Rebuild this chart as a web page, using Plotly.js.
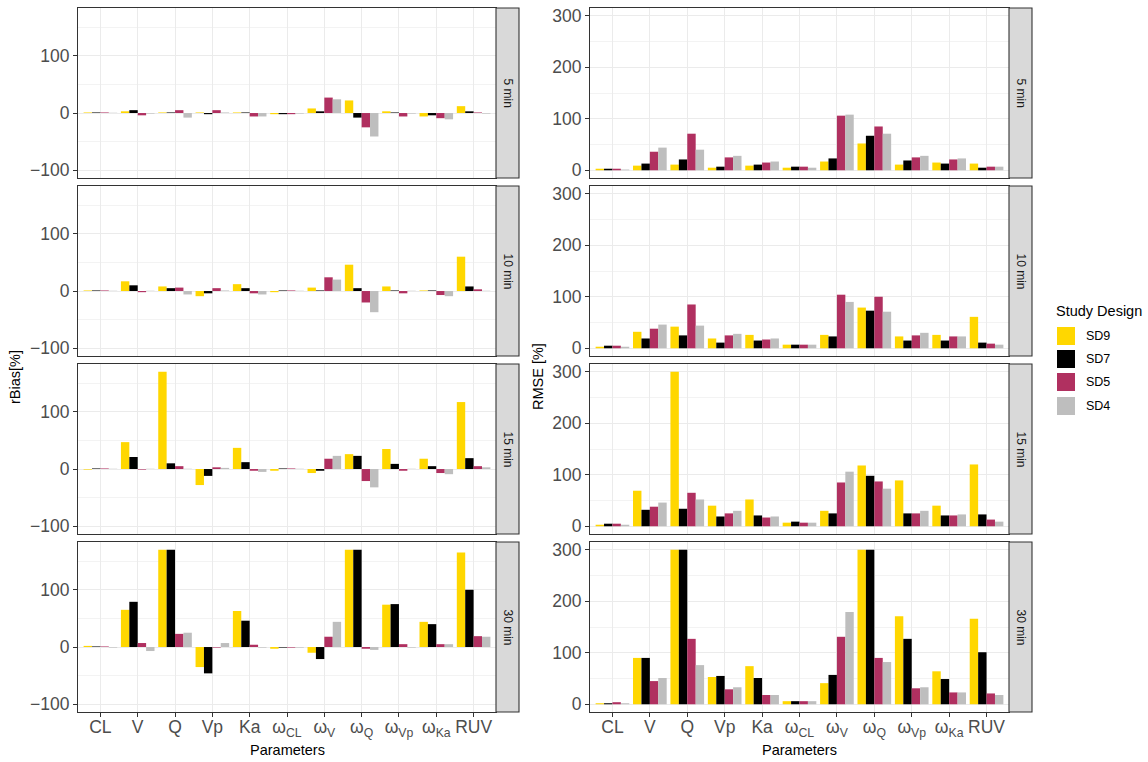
<!DOCTYPE html>
<html>
<head>
<meta charset="utf-8">
<script src="https://cdn.plot.ly/plotly-3.0.1.min.js"></script>
<style>
  html, body { margin: 0; padding: 0; background: #fff; }
  #chart { width: 1148px; height: 762px; }
</style>
</head>
<body>
<div id="chart"></div>
<script>
// Parameter labels (x categories, shared by every panel)
const categories = ["CL", "V", "Q", "Vp", "Ka", "ω<sub>CL</sub>", "ω<sub>V</sub>",
                    "ω<sub>Q</sub>", "ω<sub>Vp</sub>", "ω<sub>Ka</sub>", "RUV"];
const designs = ["SD9", "SD7", "SD5", "SD4"];
const timeLabels = ["5 min", "10 min", "15 min", "30 min"];

// Relative bias [%] per sampling interval and study design
const rbias5_SD9  = [1, 3, 1, 1, 1, -2, 8, 22, 3, -6, 12];
const rbias5_SD7  = [1, 5, 1, -2, 1, -2, 3, -8, 1, -4, 3];
const rbias5_SD5  = [1, -4, 5, 5, -6, -2, 27, -25, -6, -9, 1];
const rbias5_SD4  = [0.5, -1, -8, 1, -6, -1, 24, -41, -1, -11, -1];

const rbias10_SD9 = [1, 17, 8, -9, 12, -2, 6, 46, 8, 1, 60];
const rbias10_SD7 = [1, 10, 5, -4, 5, 1, 1, 5, 1, 1, 8];
const rbias10_SD5 = [1, -2, 6, 5, -4, 1, 24, -20, -4, -7, 3];
const rbias10_SD4 = [0.5, 0.5, -6, 1, -6, 0.5, 20, -37, 0.5, -9, 0.5];

const rbias15_SD9 = [-1, 47, 170, -28, 37, -3, -7, 26, 35, 18, 117];
const rbias15_SD7 = [1, 21, 10, -12, 12, 1, -3, 23, 9, 5, 19];
const rbias15_SD5 = [1, -1, 5, 3, -3, 1, 18, -21, -3, -7, 5];
const rbias15_SD4 = [0.5, 0.5, 0.5, 2, -5, 0.5, 23, -32, 0.5, -9, 3];

const rbias30_SD9 = [2, 65, 170, -35, 63, -3, -10, 170, 74, 44, 165];
const rbias30_SD7 = [1, 79, 170, -46, 46, -1, -21, 170, 75, 40, 100];
const rbias30_SD5 = [1, 7, 23, -1, 4, -1, 18, -3, 5, 5, 19];
const rbias30_SD4 = [-1, -7, 25, 7, -1, -1, 44, -5, -1, 5, 18];

// Root mean squared error [%] per sampling interval and study design
const rmse5_SD9  = [3, 9, 11, 5, 9, 5, 17, 52, 11, 15, 13];
const rmse5_SD7  = [3, 13, 21, 7, 11, 7, 23, 67, 19, 13, 5];
const rmse5_SD5  = [3, 36, 71, 25, 15, 7, 106, 85, 25, 21, 7];
const rmse5_SD4  = [1.5, 44, 40, 28, 17, 5, 108, 71, 28, 23, 7];

const rmse10_SD9 = [3, 32, 42, 19, 26, 7, 26, 79, 23, 26, 61];
const rmse10_SD7 = [5, 19, 25, 11, 15, 7, 23, 73, 15, 15, 11];
const rmse10_SD5 = [5, 38, 85, 25, 17, 7, 104, 100, 25, 23, 9];
const rmse10_SD4 = [3, 46, 44, 28, 19, 7, 90, 71, 30, 23, 7];

const rmse15_SD9 = [3, 69, 300, 40, 52, 7, 30, 118, 89, 40, 120];
const rmse15_SD7 = [5, 32, 34, 19, 21, 9, 25, 98, 25, 21, 23];
const rmse15_SD5 = [5, 38, 65, 25, 17, 7, 85, 87, 25, 21, 13];
const rmse15_SD4 = [3, 46, 52, 30, 19, 7, 106, 73, 30, 23, 9];

const rmse30_SD9 = [2, 90, 300, 53, 74, 6, 41, 300, 171, 64, 166];
const rmse30_SD7 = [2, 90, 300, 55, 51, 6, 57, 300, 127, 49, 101];
const rmse30_SD5 = [4, 45, 127, 29, 18, 6, 131, 90, 31, 23, 21];
const rmse30_SD4 = [2, 51, 76, 33, 18, 6, 179, 82, 33, 23, 18];

const rbiasPanels = [
  [rbias5_SD9, rbias5_SD7, rbias5_SD5, rbias5_SD4],
  [rbias10_SD9, rbias10_SD7, rbias10_SD5, rbias10_SD4],
  [rbias15_SD9, rbias15_SD7, rbias15_SD5, rbias15_SD4],
  [rbias30_SD9, rbias30_SD7, rbias30_SD5, rbias30_SD4]
];
const rmsePanels = [
  [rmse5_SD9, rmse5_SD7, rmse5_SD5, rmse5_SD4],
  [rmse10_SD9, rmse10_SD7, rmse10_SD5, rmse10_SD4],
  [rmse15_SD9, rmse15_SD7, rmse15_SD5, rmse15_SD4],
  [rmse30_SD9, rmse30_SD7, rmse30_SD5, rmse30_SD4]
];

const colors = ["#FFD700", "#000000", "#B03060", "#BEBEBE"];

// ---- geometry (pixels of the 1148 x 762 canvas) ----
const W = 1148, H = 762;
const fx = x => x / W;
const fy = y => 1 - y / H;
const cols = [
  { x0: 78,  x1: 496,  s1: 519,  range: [-113.5, 183.5], tickvals: [-100, 0, 100] },
  { x0: 590, x1: 1009, s1: 1032, range: [-15, 315],      tickvals: [0, 100, 200, 300] }
];
const rowTops = [8, 186, 364, 542];
const rowH = 170;

const FONT = "Liberation Sans, Arial, sans-serif";
const tickFont = { family: FONT, size: 17.5, color: "#4D4D4D" };
const titleFont = { family: FONT, size: 14.5, color: "#000000" };

const traces = [];
const layout = {
  width: W, height: H,
  margin: { l: 0, r: 0, t: 0, b: 0 },
  paper_bgcolor: "#FFFFFF",
  plot_bgcolor: "#FFFFFF",
  barmode: "group",
  bargap: 0.1,
  bargroupgap: 0,
  showlegend: false,
  font: { family: FONT },
  shapes: [],
  annotations: []
};

// plain text label placed in canvas pixels
function label(x, y, text, font, extra) {
  layout.annotations.push(Object.assign({
    xref: "paper", yref: "paper", x: fx(x), y: fy(y),
    xanchor: "center", yanchor: "middle",
    text: text, showarrow: false, font: font
  }, extra || {}));
}

const panelSets = [rbiasPanels, rmsePanels];

cols.forEach((col, c) => {
  rowTops.forEach((top, r) => {
    const idx = c * 4 + r + 1;
    const isBottom = r === rowTops.length - 1;

    panelSets[c][r].forEach((vals, d) => {
      traces.push({
        type: "bar",
        x: categories,
        y: vals,
        name: designs[d],
        marker: { color: colors[d], line: { width: 0 } },
        xaxis: "x" + idx,
        yaxis: "y" + idx,
        hoverinfo: "skip"
      });
    });

    layout["xaxis" + idx] = {
      domain: [fx(col.x0), fx(col.x1)],
      anchor: "y" + idx,
      type: "category",
      categoryorder: "array",
      categoryarray: categories,
      range: [-0.6, categories.length - 0.4],
      showgrid: true,
      gridcolor: "#EBEBEB",
      gridwidth: 1,
      zeroline: false,
      showline: true,
      mirror: true,
      linecolor: "#333333",
      linewidth: 1.1,
      ticks: isBottom ? "outside" : "",
      ticklen: 4,
      tickcolor: "#333333",
      tickwidth: 1,
      showticklabels: isBottom,
      ticklabelstandoff: -5,
      tickangle: 0,
      tickfont: tickFont,
      fixedrange: true
    };
    layout["yaxis" + idx] = {
      domain: [fy(top + rowH), fy(top)],
      anchor: "x" + idx,
      range: col.range,
      tickmode: "array",
      tickvals: col.tickvals,
      showgrid: true,
      gridcolor: "#EBEBEB",
      gridwidth: 1,
      minor: { dtick: 50, tick0: 0, showgrid: true, gridcolor: "#EBEBEB", gridwidth: 0.6, ticks: "" },
      zeroline: false,
      showline: true,
      mirror: true,
      linecolor: "#333333",
      linewidth: 1.1,
      ticks: "outside",
      ticklen: 4,
      tickcolor: "#333333",
      tickwidth: 1,
      tickfont: tickFont,
      fixedrange: true
    };

    // facet strip on the right-hand side of each panel
    layout.shapes.push({
      type: "rect", xref: "paper", yref: "paper",
      x0: fx(col.x1), x1: fx(col.s1), y0: fy(top + rowH), y1: fy(top),
      fillcolor: "#D9D9D9", line: { color: "#333333", width: 1.1 }, layer: "above"
    });
    label((col.x1 + col.s1) / 2, top + rowH / 2, timeLabels[r],
          { family: FONT, size: 12, color: "#1A1A1A" }, { textangle: 90 });
  });

  // "Parameters" under the bottom panel of each column
  label((col.x0 + col.x1) / 2, 750, "Parameters", titleFont);
});

// y axis titles
label(15, 377, "rBias[%]", titleFont, { textangle: -90 });
label(538, 377, "RMSE [%]", titleFont, { textangle: -90 });

// legend: "Study Design"
label(1054, 311, "Study Design", titleFont, { xanchor: "left" });
const legendY = [336, 359, 382, 406];
designs.forEach((d, i) => {
  layout.shapes.push({
    type: "rect", xref: "paper", yref: "paper",
    x0: fx(1057), x1: fx(1075), y0: fy(legendY[i] + 9), y1: fy(legendY[i] - 9),
    fillcolor: colors[i], line: { width: 0 }
  });
  label(1084, legendY[i], d, { family: FONT, size: 12.5, color: "#000000" }, { xanchor: "left" });
});

Plotly.newPlot("chart", traces, layout, { staticPlot: true, displayModeBar: false });
</script>
</body>
</html>
